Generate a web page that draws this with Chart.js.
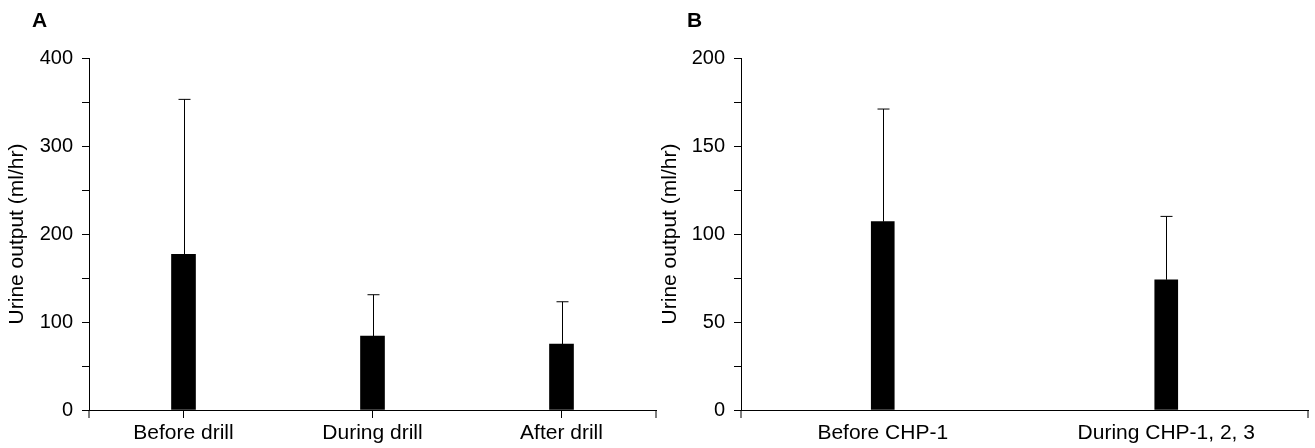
<!DOCTYPE html>
<html lang="en">
<head>
  <meta charset="UTF-8" />
  <title>Urine output</title>
  <script src="https://cdn.jsdelivr.net/npm/chart.js"></script>
  <style>
    body {
      margin: 0;
      background: #fff;
      width: 1315px;
      height: 448px;
      position: relative;
      overflow: hidden;
      font-family: 'Liberation Sans', Arial, sans-serif;
    }
    canvas {
      position: absolute;
      top: 0;
    }
    #chartA { left: 0; }
    #chartB { left: 655px; }
    .panel {
      position: absolute;
      top: 10px;
      font-weight: bold;
      font-size: 21px;
      line-height: 20px;
      color: #000;
    }
  </style>
</head>
<body>
  <canvas id="chartA" width="660" height="448"></canvas>
  <canvas id="chartB" width="660" height="448"></canvas>
  <div class="panel" style="left: 32px;">A</div>
  <div class="panel" style="left: 687px;">B</div>

  <script>
    // panel A
    const labelsA = ['Before drill', 'During drill', 'After drill'];
    const meanA = [177, 84, 75];
    const sdA = [176, 47, 48];

    // panel B
    const labelsB = ['Before CHP-1', 'During CHP-1, 2, 3'];
    const meanB = [107, 74];
    const sdB = [64, 36];

    const yTitle = 'Urine output (ml/hr)';
    const FONT = "'Liberation Sans', Arial, sans-serif";

    Chart.defaults.color = '#000';
    Chart.defaults.font.family = FONT;

    // draws the SD whiskers and the little ticks at both ends of the x axis
    const errorBars = {
      id: 'errorBars',
      afterDatasetsDraw(chart) {
        const ctx = chart.ctx;
        const yScale = chart.scales.y;
        const ds = chart.data.datasets[0];
        const meta = chart.getDatasetMeta(0);
        ctx.save();
        ctx.strokeStyle = '#000';
        ctx.lineWidth = 1;
        meta.data.forEach((bar, i) => {
          const top = yScale.getPixelForValue(ds.data[i] + ds.sd[i]);
          const x = Math.round(bar.x) + 0.5;
          ctx.beginPath();
          ctx.moveTo(x, bar.y);
          ctx.lineTo(x, top);
          ctx.moveTo(x - 6, top);
          ctx.lineTo(x + 6, top);
          ctx.stroke();
        });
        const area = chart.chartArea;
        ctx.beginPath();
        ctx.moveTo(area.left, area.bottom);
        ctx.lineTo(area.left, area.bottom + 8);
        ctx.moveTo(area.right, area.bottom);
        ctx.lineTo(area.right, area.bottom + 8);
        ctx.stroke();
        ctx.restore();
      }
    };

    function makeChart(id, labels, mean, sd, opts) {
      return new Chart(document.getElementById(id).getContext('2d'), {
        type: 'bar',
        data: {
          labels: labels,
          datasets: [{
            data: mean,
            sd: sd,
            backgroundColor: '#000',
            borderWidth: 0,
            barThickness: opts.barWidth
          }]
        },
        options: {
          responsive: false,
          animation: false,
          devicePixelRatio: 1,
          layout: { padding: { left: 0, right: opts.padRight, top: 58, bottom: 0 } },
          plugins: { legend: { display: false }, tooltip: { enabled: false } },
          scales: {
            x: {
              grid: {
                drawOnChartArea: false,
                offset: false,
                tickLength: 8,
                color: opts.centerTicks ? '#000' : 'rgba(0,0,0,0)'
              },
              border: { display: true, color: '#000', width: 1 },
              ticks: { font: { size: 21 }, padding: 3, maxRotation: 0, autoSkip: false },
              afterFit(scale) { scale.height = 38; }
            },
            y: {
              min: 0,
              max: opts.max,
              grid: { drawOnChartArea: false, tickLength: 7, color: '#000' },
              border: { display: true, color: '#000', width: 1 },
              ticks: {
                stepSize: opts.step,
                padding: 9,
                font: { size: 20 },
                callback: v => (v % opts.labelStep === 0 ? v : '')
              },
              title: {
                display: true,
                text: yTitle,
                font: { size: 21 },
                padding: { top: opts.titlePad, bottom: 0 }
              },
              afterFit(scale) { scale.width = opts.axisLeft; }
            }
          }
        },
        plugins: [errorBars]
      });
    }

    makeChart('chartA', labelsA, meanA, sdA, {
      max: 400, step: 50, labelStep: 100, barWidth: 24,
      padRight: 4, axisLeft: 89, titlePad: 5, centerTicks: true
    });
    makeChart('chartB', labelsB, meanB, sdB, {
      max: 200, step: 25, labelStep: 50, barWidth: 23,
      padRight: 7, axisLeft: 86, titlePad: 3, centerTicks: false
    });
  </script>
</body>
</html>
